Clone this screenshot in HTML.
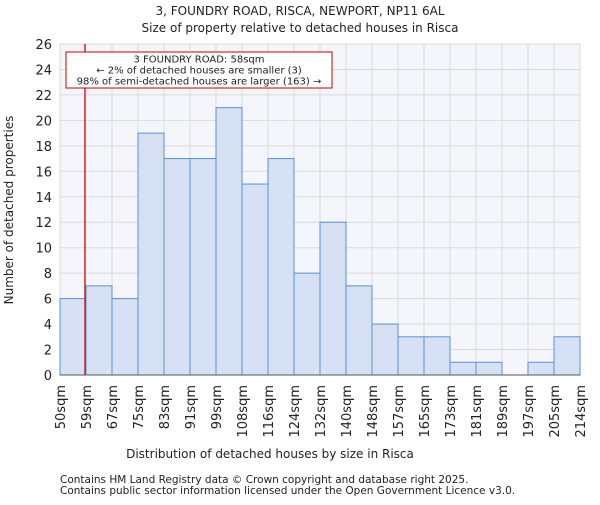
<!DOCTYPE html>
<html><head><meta charset="utf-8"><style>
body{margin:0;background:#fff;}
svg text{font-family:"DejaVu Sans","Liberation Sans",sans-serif;fill:#222;}
</style></head><body>
<svg id="chart" width="600" height="500" xmlns="http://www.w3.org/2000/svg">
<text x="300" y="15" text-anchor="middle" font-size="12">3, FOUNDRY ROAD, RISCA, NEWPORT, NP11 6AL</text>
<text x="300" y="32" text-anchor="middle" font-size="12">Size of property relative to detached houses in Risca</text>
<rect x="60" y="44" width="520" height="331" fill="#f4f6fc"/>
<g id="grid"></g><g id="bars"></g><g id="axes"></g>
<text x="270" y="458" text-anchor="middle" font-size="12">Distribution of detached houses by size in Risca</text>
<text transform="translate(13,210) rotate(-90)" text-anchor="middle" font-size="12">Number of detached properties</text>
<text x="60" y="483" font-size="10.5" fill="#444">Contains HM Land Registry data © Crown copyright and database right 2025.</text>
<text x="60" y="494" font-size="10.5" fill="#444">Contains public sector information licensed under the Open Government Licence v3.0.</text>
</svg>
<script>
const categories=["50sqm","59sqm","67sqm","75sqm","83sqm","91sqm","99sqm","108sqm","116sqm","124sqm","132sqm","140sqm","148sqm","157sqm","165sqm","173sqm","181sqm","189sqm","197sqm","205sqm","214sqm"];
const counts=[6,7,6,19,17,17,21,15,17,8,12,7,4,3,3,1,1,0,1,3];
const yTicks=[0,2,4,6,8,10,12,14,16,18,20,22,24,26];
const propertyIndex=0.96;
const NS="http://www.w3.org/2000/svg";
const x0=60,x1=580,y0=375,y1=44,yMax=26;
const bw=(x1-x0)/counts.length;
const xs=i=>x0+i*bw, ys=v=>y0-(v/yMax)*(y0-y1);
function mk(t,a,p){const e=document.createElementNS(NS,t);for(const k in a)e.setAttribute(k,a[k]);p.appendChild(e);return e;}
const grid=document.getElementById('grid'),bars=document.getElementById('bars'),axes=document.getElementById('axes');
yTicks.forEach(v=>{const l=mk('line',{x1:x0,x2:x1,y1:ys(v),y2:ys(v),stroke:'#dadada','stroke-width':1},grid);

const t=mk('text',{x:x0-8,y:ys(v)+5,'text-anchor':'end','font-size':13},axes);t.textContent=v;
});
categories.forEach((c,i)=>{const l=mk('line',{x1:xs(i),x2:xs(i),y1:y1,y2:y0,stroke:'#dadada','stroke-width':1},grid);

const t=mk('text',{transform:`translate(${xs(i)+5},${y0+10}) rotate(-90)`,'text-anchor':'end','font-size':13},axes);t.textContent=c;
});
counts.forEach((v,i)=>{if(v<=0)return;const r=mk('rect',{x:xs(i),y:ys(v),width:bw,height:y0-ys(v),fill:'#d6e1f3',stroke:'#5b8fd8','stroke-width':1},bars);
});
const rx=xs(propertyIndex);
const rl=mk('line',{x1:rx,x2:rx,y1:y1,y2:y0,stroke:'#cc0000','stroke-width':1.2},bars);

const ax=mk('line',{x1:x0,x2:x1,y1:y0,y2:y0,stroke:'#555'},axes);
const g=mk('g',{},axes);
mk('rect',{x:66,y:52,width:266,height:36,fill:'#fff',stroke:'#cc0000','stroke-width':1},g);
[["3 FOUNDRY ROAD: 58sqm",62.5],["← 2% of detached houses are smaller (3)",73.5],["98% of semi-detached houses are larger (163) →",84.5]].forEach(([s,y])=>{
const t=mk('text',{x:199,y:y,'text-anchor':'middle','font-size':10},g);t.textContent=s;
});
</script>
</body></html>
